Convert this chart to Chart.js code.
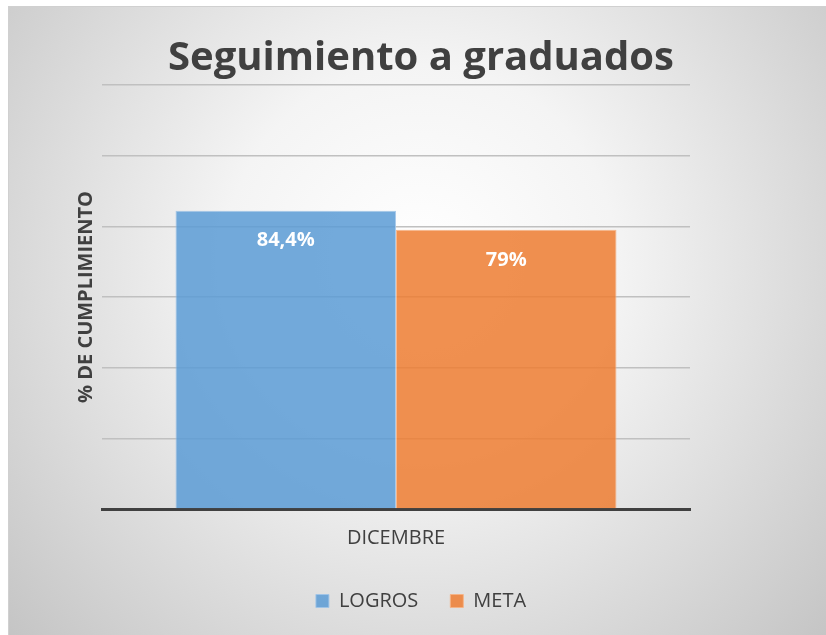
<!DOCTYPE html>
<html>
  <head>
    <meta charset="UTF-8">
    <title>Seguimiento a graduados</title>
    <style>
      html, body { margin: 0; padding: 0; background: #ffffff; }
      #wrap { position: relative; width: 826px; height: 635px; }
    </style>
  </head>
  <body>
    <div id="wrap">
      <canvas id="barChart" width="826" height="635"></canvas>
    </div>
  </body>
  <script src="https://cdn.jsdelivr.net/npm/chart.js@4/dist/chart.umd.min.js"></script>
  <script>
    const categories = ['DICEMBRE'];
    const seriesNames = ['LOGROS', 'META'];
    const logros = [84.4];
    const meta = [79];
    const valueLabels = [['84,4%'], ['79%']];
    const yTicks = [0, 20, 40, 60, 80, 100, 120];

    const fontFamily = "'Open Sans', 'Noto Sans', sans-serif";
    const textColor = '#404040';

    // fondo con degradado radial, como en la hoja original
    const backgroundPlugin = {
      id: 'backgroundPlugin',
      beforeDraw(chart) {
        const ctx = chart.ctx;
        const x0 = 8, y0 = 6, w = chart.width - x0, h = chart.height - y0;
        ctx.save();
        ctx.fillStyle = '#ffffff';
        ctx.fillRect(0, 0, chart.width, chart.height);
        const grad = ctx.createRadialGradient(420, 260, 0, 420, 260, 560);
        grad.addColorStop(0, '#ffffff');
        grad.addColorStop(0.35, '#f4f4f4');
        grad.addColorStop(1, '#c4c4c4');
        ctx.fillStyle = grad;
        ctx.fillRect(x0, y0, w, h);
        ctx.strokeStyle = '#d0d0d0';
        ctx.lineWidth = 1;
        ctx.strokeRect(x0 + 0.5, y0 + 0.5, w, h);
        ctx.restore();
      }
    };

    // etiquetas de valor dentro de las barras
    const valueLabelPlugin = {
      id: 'valueLabelPlugin',
      afterDatasetsDraw(chart) {
        const ctx = chart.ctx;
        ctx.save();
        ctx.fillStyle = '#ffffff';
        ctx.font = "bold 20px " + fontFamily;
        ctx.textAlign = 'center';
        ctx.textBaseline = 'middle';
        chart.data.datasets.forEach((ds, i) => {
          chart.getDatasetMeta(i).data.forEach((bar, j) => {
            ctx.fillText(valueLabels[i][j], bar.x, bar.y + 30);
          });
        });
        ctx.restore();
      }
    };

    const ctx = document.getElementById('barChart').getContext('2d');
    const barChart = new Chart(ctx, {
      type: 'bar',
      data: {
        labels: categories,
        datasets: [{
          label: seriesNames[0],
          data: logros,
          backgroundColor: 'rgba(91, 155, 213, 0.85)',
          borderColor: 'rgba(160, 196, 232, 0.9)',
          borderWidth: 1
        }, {
          label: seriesNames[1],
          data: meta,
          backgroundColor: 'rgba(237, 125, 49, 0.85)',
          borderColor: 'rgba(246, 178, 132, 0.9)',
          borderWidth: 1
        }]
      },
      options: {
        responsive: false,
        animation: false,
        layout: {
          padding: { left: 74, right: 58, top: 23, bottom: 14 }
        },
        categoryPercentage: 0.75,
        barPercentage: 1,
        plugins: {
          title: {
            display: true,
            text: 'Seguimiento a graduados',
            color: textColor,
            font: { family: fontFamily, size: 40, weight: 'bold' },
            padding: { top: 12, bottom: 2 }
          },
          legend: {
            position: 'bottom',
            labels: {
              color: textColor,
              font: { family: fontFamily, size: 20 },
              boxWidth: 13,
              boxHeight: 13,
              padding: 32
            }
          },
          tooltip: { enabled: false }
        },
        scales: {
          x: {
            grid: { display: false },
            border: { display: true, color: '#404040', width: 3 },
            ticks: {
              color: textColor,
              font: { family: fontFamily, size: 20 },
              padding: 9
            }
          },
          y: {
            min: yTicks[0],
            max: yTicks[yTicks.length - 1],
            afterBuildTicks(scale) {
              scale.ticks = yTicks.map(v => ({ value: v }));
            },
            ticks: { display: false },
            grid: { color: '#c0c0c0', lineWidth: 1.5, drawTicks: false },
            border: { display: false },
            title: {
              display: true,
              text: '% DE CUMPLIMIENTO',
              color: textColor,
              font: { family: fontFamily, size: 20, weight: 'bold' },
              padding: { top: 0, bottom: 4 }
            }
          },
          // eje vacío a la derecha para reservar el margen del área de trazado
          yRight: {
            position: 'right',
            display: true,
            ticks: { display: false },
            grid: { display: false },
            border: { display: false },
            afterFit(scale) {
              scale.width = 78;
            }
          }
        }
      },
      plugins: [backgroundPlugin, valueLabelPlugin]
    });
  </script>
</html>
